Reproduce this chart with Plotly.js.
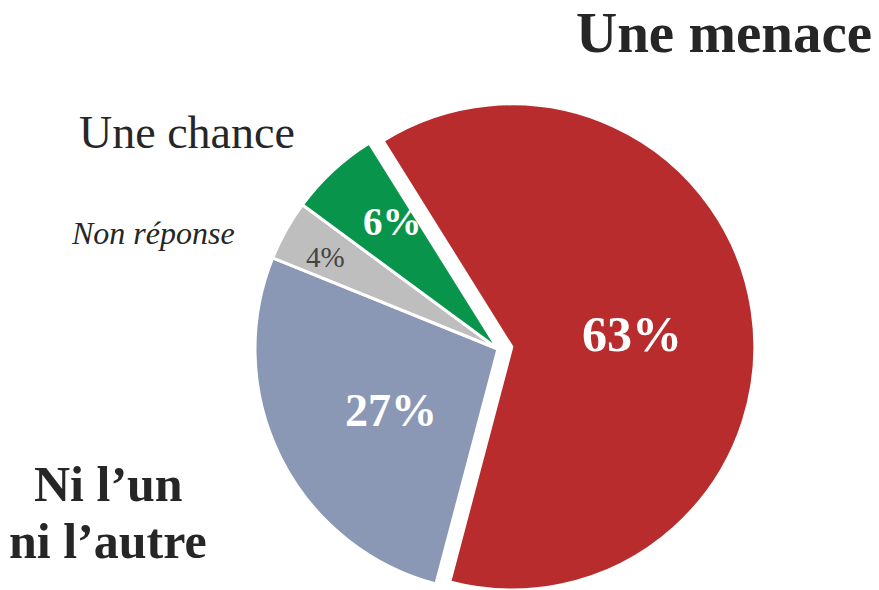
<!DOCTYPE html>
<html>
<head>
<meta charset="utf-8">
<script src="https://cdn.plot.ly/plotly-3.0.1.min.js"></script>
<style>
html, body { margin:0; padding:0; overflow:hidden; width:879px; height:590px; background:#fff; }
#chart { width:879px; height:620px; }
</style>
</head>
<body>
<div id="chart"></div>
<script>
// ---- data ----
var categories = ["Une menace", "Ni l’un ni l’autre", "Non réponse", "Une chance"];
var values = [63, 27, 4, 6];
var colors = ["#B92C2D", "#8A98B5", "#BEBEBE", "#08944A"];
var pulls = [0.0576, 0, 0, 0];
var boldLabel = [true, true, false, true];
var insideColors = ["#ffffff", "#ffffff", "#444444", "#ffffff"];
var insideSizes = [50, 46, 29, 39];
// label anchor positions (pixels) for the percentage labels
var pctX = [632, 391, 325, 392];
var pctY = [334, 411, 257, 222];

var W = 879, H = 620;
function px(x) { return x / W; }
function py(y) { return (H - y) / H; }

var trace = {
  type: "pie",
  labels: categories,
  values: values,
  textinfo: "none",
  sort: false,
  direction: "clockwise",
  rotation: -32,
  pull: pulls,
  marker: { colors: colors, line: { color: "#ffffff", width: 3 } },
  hoverinfo: "none",
  showlegend: false,
  domain: { x: [px(241), px(755)], y: [14 / H, 528 / H] }
};

var labelFont = "Liberation Serif, serif";
var dark = "#262626";
var annotations = [
  { text: "<b>Une menace</b>", x: px(874), y: py(32), xanchor: "right", yanchor: "middle",
    font: { family: labelFont, size: 57, color: dark } },
  { text: "Une chance", x: px(187), y: py(133), xanchor: "center", yanchor: "middle",
    font: { family: labelFont, size: 46, color: dark } },
  { text: "<i>Non réponse</i>", x: px(153), y: py(233), xanchor: "center", yanchor: "middle",
    font: { family: labelFont, size: 32, color: dark } },
  { text: "<b>Ni l’un</b>", x: px(108), y: py(484), xanchor: "center", yanchor: "middle",
    font: { family: labelFont, size: 50, color: dark } },
  { text: "<b>ni l’autre</b>", x: px(108), y: py(541), xanchor: "center", yanchor: "middle",
    font: { family: labelFont, size: 50, color: dark } }
];
values.forEach(function (v, i) {
  annotations.push({
    text: boldLabel[i] ? "<b>" + v + "%</b>" : v + "%",
    x: px(pctX[i]), y: py(pctY[i]), xanchor: "center", yanchor: "middle",
    font: { family: labelFont, size: insideSizes[i], color: insideColors[i] }
  });
});
annotations.forEach(function (a) { a.xref = "paper"; a.yref = "paper"; a.showarrow = false; });

var layout = {
  width: W, height: H,
  margin: { l: 0, r: 0, t: 0, b: 0, pad: 0 },
  paper_bgcolor: "#ffffff",
  plot_bgcolor: "#ffffff",
  annotations: annotations,
  showlegend: false
};

Plotly.newPlot("chart", [trace], layout, { displayModeBar: false, staticPlot: true });
</script>
</body>
</html>
